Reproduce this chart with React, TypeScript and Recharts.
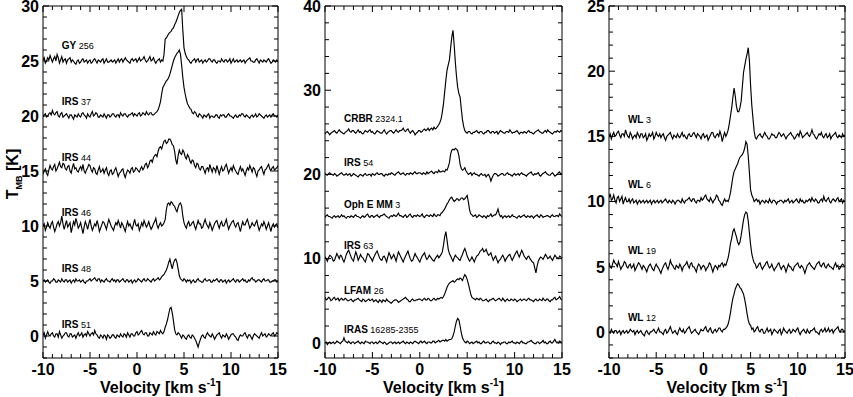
import React from 'react';
import { LineChart, Line, XAxis, YAxis, ReferenceArea, ReferenceDot } from 'recharts';

// ---------- data ----------
// channel velocities (km/s), 0.125 km/s channels
const VELOCITY = [
 -10,-9.875,-9.75,-9.625,-9.5,-9.375,-9.25,-9.125,
 -9,-8.875,-8.75,-8.625,-8.5,-8.375,-8.25,-8.125,
 -8,-7.875,-7.75,-7.625,-7.5,-7.375,-7.25,-7.125,
 -7,-6.875,-6.75,-6.625,-6.5,-6.375,-6.25,-6.125,
 -6,-5.875,-5.75,-5.625,-5.5,-5.375,-5.25,-5.125,
 -5,-4.875,-4.75,-4.625,-4.5,-4.375,-4.25,-4.125,
 -4,-3.875,-3.75,-3.625,-3.5,-3.375,-3.25,-3.125,
 -3,-2.875,-2.75,-2.625,-2.5,-2.375,-2.25,-2.125,
 -2,-1.875,-1.75,-1.625,-1.5,-1.375,-1.25,-1.125,
 -1,-0.875,-0.75,-0.625,-0.5,-0.375,-0.25,-0.125,
 0,0.125,0.25,0.375,0.5,0.625,0.75,0.875,
 1,1.125,1.25,1.375,1.5,1.625,1.75,1.875,
 2,2.125,2.25,2.375,2.5,2.625,2.75,2.875,
 3,3.125,3.25,3.375,3.5,3.625,3.75,3.875,
 4,4.125,4.25,4.375,4.5,4.625,4.75,4.875,
 5,5.125,5.25,5.375,5.5,5.625,5.75,5.875,
 6,6.125,6.25,6.375,6.5,6.625,6.75,6.875,
 7,7.125,7.25,7.375,7.5,7.625,7.75,7.875,
 8,8.125,8.25,8.375,8.5,8.625,8.75,8.875,
 9,9.125,9.25,9.375,9.5,9.625,9.75,9.875,
 10,10.125,10.25,10.375,10.5,10.625,10.75,10.875,
 11,11.125,11.25,11.375,11.5,11.625,11.75,11.875,
 12,12.125,12.25,12.375,12.5,12.625,12.75,12.875,
 13,13.125,13.25,13.375,13.5,13.625,13.75,13.875,
 14,14.125,14.25,14.375,14.5,14.625,14.75,14.875,
 15];

const X_TICKS = [-10,-9,-8,-7,-6,-5,-4,-3,-2,-1,0,1,2,3,4,5,6,7,8,9,10,11,12,13,14,15];
const P1_Y_TICKS = [-2,-1,0,1,2,3,4,5,6,7,8,9,10,11,12,13,14,15,16,17,18,19,20,21,22,23,24,25,26,27,28,29,30];
const P2_Y_TICKS = [0,2,4,6,8,10,12,14,16,18,20,22,24,26,28,30,32,34,36,38,40];
const P3_Y_TICKS = [-2,-1,0,1,2,3,4,5,6,7,8,9,10,11,12,13,14,15,16,17,18,19,20,21,22,23,24,25];

// Panel 1 spectra (T_MB minus the vertical offset)
const GY_256 = [
 0.1,0.3,-0.2,0.0,0.3,0.1,0.5,0.2,-0.1,0.2,0.4,0.0,0.6,0.3,-0.2,0.1,0.4,-0.1,0.1,0.2,
 -0.2,0.1,0.2,0.3,-0.1,0.1,0.0,-0.2,-0.3,0.0,0.1,-0.2,-0.1,0.1,0.2,-0.1,0.0,0.1,-0.2,0.0,
 0.1,-0.2,-0.1,0.1,0.2,0.0,-0.2,0.1,0.0,-0.1,0.1,0.2,-0.2,0.0,0.2,-0.1,-0.1,0.0,0.1,-0.1,
 0.0,0.1,-0.2,0.0,0.2,-0.1,0.1,0.2,-0.1,0.1,0.3,0.1,0.0,-0.1,-0.2,0.1,0.2,0.0,0.1,0.2,
 -0.1,0.1,0.3,0.0,0.1,0.2,0.4,0.1,-0.1,0.0,0.2,0.4,0.0,0.1,0.3,0.0,-0.2,0.0,0.1,0.2,
 -0.1,0.1,0.0,0.6,2.0,2.1,2.3,2.5,2.6,2.7,2.9,3.0,3.3,3.5,3.8,4.1,4.4,4.6,4.7,2.8,1.2,0.7,0.4,0.2,0.1,-0.1,-0.2,0.0,0.1,0.2,
 -0.1,0.1,0.2,-0.1,0.0,0.1,-0.2,0.0,0.1,-0.1,0.0,0.2,0.2,0.0,-0.1,0.1,0.1,-0.1,-0.2,0.0,
 0.0,-0.1,0.2,0.0,-0.1,0.1,0.1,-0.1,0.0,0.2,-0.2,0.0,0.2,-0.1,0.0,0.1,-0.1,0.0,0.1,-0.1,
 0.0,0.1,-0.2,0.0,0.1,0.2,0.3,0.0,0.0,-0.1,-0.1,0.1,0.2,0.0,-0.2,0.1,0.0,-0.1,0.1,0.0,
 -0.1,0.1,0.2,0.0,-0.2,-0.1,0.1,0.0,-0.1,0.1,-0.1];
const IRS_37 = [
 -0.1,0.1,0.2,-0.1,0.0,0.2,0.3,0.1,0.5,0.2,0.1,0.3,0.4,0.0,-0.1,0.2,0.3,-0.1,0.0,0.1,
 0.2,0.0,-0.2,0.1,0.1,-0.1,-0.3,0.1,0.0,-0.1,0.2,0.0,-0.1,0.2,0.3,0.1,0.0,-0.2,0.2,0.0,
 -0.1,0.2,0.4,0.0,0.1,0.3,0.2,-0.1,-0.1,0.1,0.0,-0.1,0.2,0.0,-0.2,0.1,0.1,-0.1,0.0,0.2,
 0.2,0.0,-0.1,0.1,0.1,-0.1,0.3,0.1,0.0,0.2,0.2,0.0,-0.1,0.1,0.1,0.2,0.3,0.0,0.2,0.1,
 0.0,0.2,0.3,0.0,0.1,0.3,0.2,0.1,0.4,0.2,0.1,0.3,0.3,0.1,0.1,0.2,
 0.3,0.4,0.6,0.9,1.3,2.0,2.6,2.8,3.0,3.2,3.3,3.5,3.8,4.2,4.6,5.0,5.3,5.5,5.7,5.8,6.0,5.6,4.6,3.5,2.6,2.0,1.5,1.1,0.9,0.7,0.6,0.3,0.2,0.4,0.3,0.0,-0.1,0.2,
 0.1,0.0,-0.2,0.1,0.0,-0.1,0.1,0.2,-0.2,0.0,0.0,-0.1,-0.1,0.1,0.1,-0.1,-0.2,0.1,0.0,0.1,
 0.1,-0.1,-0.1,0.1,0.2,0.0,0.0,-0.1,-0.2,0.0,0.1,-0.1,-0.1,0.1,0.0,0.2,0.2,0.0,-0.1,0.1,
 0.0,-0.1,-0.2,0.0,0.1,-0.1,0.0,0.2,-0.1,0.0,0.2,0.1,0.0,-0.1,-0.2,0.0,0.1,-0.1,0.0,0.1,
 -0.1,0.1,0.2,0.0,0.0,-0.1,0.1];
const IRS_44 = [
 -0.3,0.0,0.2,-0.2,-0.4,0.1,0.5,0.2,0.1,0.4,0.6,0.0,0.2,0.5,0.8,0.4,0.3,0.7,0.6,0.2,
 0.1,0.4,0.5,0.0,-0.2,0.3,0.7,0.2,0.3,0.0,-0.1,0.2,0.4,0.1,0.6,0.0,-0.2,0.1,0.3,0.6,
 0.5,0.1,-0.1,0.3,0.2,-0.2,-0.3,0.1,0.4,-0.1,0.0,0.2,-0.2,0.1,0.3,-0.2,-0.4,0.0,0.1,-0.3,
 -0.2,0.1,0.3,-0.1,-0.5,-0.2,-0.1,0.1,0.2,-0.3,-0.6,-0.2,0.1,0.0,-0.2,0.2,0.3,-0.1,0.0,0.3,
 0.2,0.0,-0.1,0.2,0.4,0.1,0.3,0.6,0.7,0.3,0.5,0.9,1.0,0.8,1.2,1.4,1.5,1.3,1.8,2.1,2.2,2.0,2.4,2.7,2.8,2.5,2.6,2.9,2.9,2.7,2.4,2.3,1.8,1.0,0.6,1.4,1.9,1.6,1.5,1.9,1.7,1.3,1.1,1.5,1.3,0.9,0.7,1.0,0.9,0.5,0.3,0.7,0.6,0.2,0.1,0.4,
 0.4,0.1,-0.2,0.2,0.3,0.0,0.6,0.2,-0.1,0.3,0.2,-0.1,0.5,0.1,-0.3,0.1,0.4,0.0,0.1,0.4,
 0.6,0.2,-0.2,0.1,0.3,0.0,0.5,0.2,0.0,-0.2,-0.3,0.1,0.4,0.0,0.2,-0.1,-0.4,0.0,0.3,0.1,
 0.5,0.2,-0.1,0.3,0.2,-0.2,-0.5,0.0,0.1,0.3,0.4,0.0,-0.3,0.1,0.2,0.4,0.6,0.2,0.0,0.3,
 0.4,0.1,0.2,0.3,0.5];
const IRS_46 = [
 0.0,0.2,-0.4,-0.1,0.3,0.0,-0.2,0.2,0.4,-0.1,-0.5,-0.2,0.2,0.4,0.0,0.3,0.9,0.2,-0.3,0.1,
 0.5,-0.1,0.1,0.3,-0.6,-0.1,0.4,0.1,0.7,0.3,-0.2,0.0,0.3,-0.2,-0.7,-0.1,0.4,0.1,-0.3,0.2,
 0.6,0.0,-0.4,-0.1,0.2,0.0,0.5,0.1,-0.5,-0.2,0.1,0.4,0.3,0.0,-0.3,0.2,0.6,0.3,0.0,-0.2,
 -0.4,0.0,0.3,0.1,0.5,0.2,-0.2,0.3,0.1,-0.2,-0.5,0.0,0.4,0.0,0.2,-0.1,-0.3,0.2,0.6,0.1,
 0.0,0.2,-0.4,-0.1,0.3,0.0,0.5,0.2,-0.1,0.1,0.4,0.0,-0.3,-0.1,0.2,0.4,0.7,0.1,-0.2,0.1,
 0.3,0.0,0.1,0.3,0.6,1.5,2.0,2.1,1.9,2.2,2.1,1.9,1.8,1.5,1.3,1.7,2.0,2.1,1.8,0.9,0.3,0.0,-0.2,0.2,0.4,0.0,0.1,0.3,
 0.4,0.0,-0.3,0.1,0.5,0.2,0.2,-0.2,-0.1,0.3,0.6,0.2,0.0,-0.2,0.3,0.0,-0.4,-0.1,0.2,0.4,
 0.5,0.1,-0.2,0.2,0.4,0.0,0.0,0.3,0.6,0.1,-0.3,0.0,0.2,0.4,0.5,0.1,-0.1,0.2,0.3,-0.1,
 -0.5,0.0,0.4,0.1,0.1,0.4,0.6,0.2,-0.2,0.0,0.3,0.1,0.0,0.3,0.5,0.0,-0.4,-0.1,0.2,0.0,
 0.4,0.1,-0.3,0.0,0.3,-0.1,-0.5,0.0,0.2,-0.1,0.1,0.2,-0.2];
const IRS_48 = [
 0.0,0.1,-0.1,0.0,0.1,-0.1,-0.2,0.0,0.0,0.2,0.1,-0.1,-0.1,0.1,0.0,-0.1,0.2,0.0,-0.1,0.1,
 0.1,-0.1,0.0,0.1,-0.2,0.0,0.1,-0.1,0.2,0.0,0.0,0.1,-0.1,0.0,0.1,-0.1,-0.2,0.0,0.0,0.1,
 0.2,0.0,0.1,0.2,0.3,0.1,0.0,0.2,0.2,-0.1,0.1,0.0,-0.1,0.1,0.2,0.0,0.0,-0.1,0.1,0.2,
 0.0,0.1,-0.1,0.1,0.1,-0.1,0.0,0.1,0.2,0.0,-0.1,0.1,0.1,-0.1,0.0,0.1,-0.2,0.0,0.1,-0.1,
 0.0,0.2,0.1,0.0,-0.1,0.1,0.2,0.0,0.0,0.2,0.1,0.0,-0.1,0.1,0.2,0.0,0.1,0.2,0.3,0.1,
 0.2,0.4,0.5,0.6,0.8,1.0,1.3,1.7,2.0,1.5,1.1,1.6,1.9,2.0,1.7,1.1,0.5,0.2,0.1,0.0,0.2,0.1,-0.1,0.1,
 0.0,0.1,-0.2,0.0,0.1,-0.1,-0.1,0.1,0.2,0.0,0.0,-0.1,-0.1,0.1,0.2,0.0,0.0,0.1,0.1,-0.1,
 -0.1,0.1,0.0,0.1,0.2,0.0,-0.1,0.1,0.1,-0.1,0.0,0.1,-0.2,0.0,0.1,-0.1,0.0,0.1,0.2,0.0,
 -0.1,0.1,0.1,-0.1,0.0,0.1,0.2,0.0,0.1,-0.1,-0.1,0.1,0.0,0.2,0.3,0.1,0.1,-0.1,0.0,0.1,
 0.1,0.0,-0.1,0.1,0.2,0.0,0.0,0.1,0.1,-0.1,-0.1,0.0,0.0,0.1,0.1,-0.1,0.0];
const IRS_51 = [
 0.1,0.3,-0.2,0.1,0.4,0.1,0.0,0.2,0.3,0.0,-0.1,0.2,0.2,-0.1,0.4,0.1,-0.2,0.0,0.1,0.3,
 0.3,0.0,-0.1,0.2,0.2,-0.1,0.0,0.1,-0.2,0.1,0.3,0.0,0.1,0.3,-0.1,0.1,0.2,0.0,0.4,0.2,
 0.0,0.2,0.3,0.1,0.5,0.2,0.1,-0.1,-0.2,0.1,0.0,-0.2,0.1,0.0,-0.3,0.1,0.0,-0.2,-0.1,0.1,
 0.1,-0.1,-0.2,0.1,0.0,-0.1,0.2,0.0,-0.1,0.2,0.1,-0.1,0.3,0.1,-0.1,0.2,0.2,0.0,0.0,0.3,
 0.4,0.1,0.2,0.4,0.5,0.2,0.1,0.3,0.3,0.0,0.0,0.3,0.2,0.1,0.4,0.2,0.1,0.4,0.3,0.2,
 0.5,0.3,0.2,0.4,0.8,1.1,1.5,2.0,2.5,2.6,2.1,1.4,0.6,0.2,0.1,0.3,0.2,0.0,-0.2,0.1,0.0,-0.2,
 -0.3,0.0,0.1,-0.1,-0.2,0.1,0.0,-0.2,-0.4,-0.7,-1.0,-0.6,-0.3,0.0,0.1,-0.1,-0.2,0.1,0.3,0.1,
 0.0,-0.1,0.2,0.0,-0.3,-0.1,0.1,0.2,0.3,0.0,-0.2,0.1,0.0,-0.1,0.2,0.0,-0.3,-0.1,0.1,0.2,
 0.2,0.0,-0.1,-0.3,-0.4,-0.1,0.1,0.0,0.0,0.2,0.3,0.0,-0.2,0.1,0.1,-0.1,-0.3,0.0,0.2,0.1,
 0.0,-0.1,-0.2,0.1,0.3,0.0,0.1,0.2,-0.1,0.0,0.2,0.1,0.0,0.2,0.3,0.0,0.1,0.3,0.2];

// Panel 2 spectra
const CRBR_2324 = [
 -0.2,0.0,0.1,-0.1,-0.3,-0.1,0.0,0.1,0.2,0.0,-0.1,0.1,0.3,0.1,0.0,-0.1,-0.2,0.0,0.1,0.2,
 0.4,0.1,0.0,0.2,0.2,0.0,-0.1,0.1,0.3,0.0,0.1,-0.1,-0.2,0.0,0.2,0.1,0.0,0.2,0.3,0.0,
 0.1,-0.1,-0.2,0.0,0.2,0.1,0.0,-0.1,-0.1,0.1,0.3,0.0,-0.2,0.0,0.1,0.2,0.2,0.0,-0.1,0.1,
 0.3,0.1,0.0,0.2,0.2,0.3,0.5,0.2,0.1,0.3,0.4,0.1,-0.1,0.1,0.2,0.0,-0.3,-0.1,0.0,0.2,
 0.2,0.0,0.1,0.3,0.4,0.2,0.3,0.5,0.2,0.4,0.5,0.3,0.6,0.4,
 0.5,0.7,0.9,1.2,1.6,2.4,3.4,4.8,6.2,7.4,8.0,8.6,10.0,11.3,12.1,10.4,8.3,6.6,5.3,4.6,4.2,2.8,1.5,0.7,0.2,0.0,-0.1,0.1,
 0.1,-0.1,-0.2,0.0,0.0,0.1,0.2,0.0,-0.1,0.1,0.1,-0.1,-0.2,0.0,0.0,0.2,0.2,0.0,-0.1,0.1,
 0.1,-0.1,0.0,0.1,-0.2,0.0,0.2,0.1,0.0,-0.1,-0.1,0.1,0.1,0.0,0.3,0.1,-0.1,0.0,0.0,0.1,
 0.2,0.0,-0.2,0.0,0.0,-0.1,0.1,0.0,-0.1,0.1,0.2,0.0,0.0,-0.1,-0.2,0.0,0.1,0.2,0.3,0.1,
 0.0,-0.1,-0.1,0.1,0.2,0.0,0.3,0.1,0.0,-0.1,-0.2,0.0,0.1,0.0,0.2,0.1,0.0,0.2,0.1];
const IRS_54 = [
 0.1,0.0,-0.1,0.1,0.2,0.0,0.0,-0.1,0.1,0.0,-0.2,-0.1,0.0,0.1,0.2,0.0,-0.1,0.0,0.1,-0.1,
 0.0,0.1,-0.2,-0.1,0.1,0.0,-0.1,-0.2,-0.3,-0.1,0.0,-0.1,-0.2,0.0,0.1,-0.1,-0.1,0.0,0.0,-0.2,
 0.1,0.0,-0.1,0.1,0.2,0.0,0.0,0.1,0.1,-0.1,-0.2,0.0,0.0,-0.1,0.1,0.0,0.2,0.1,0.0,-0.1,
 0.1,0.2,0.3,0.1,0.0,0.1,0.2,0.0,-0.1,0.1,0.1,0.0,0.2,0.1,0.0,0.2,0.3,0.1,0.1,0.2,
 0.2,0.1,0.0,0.2,0.1,0.0,0.3,0.1,0.2,0.3,0.4,0.2,0.1,0.3,0.3,0.2,0.5,0.3,0.3,0.4,
 0.4,0.3,0.6,0.5,0.9,1.4,2.4,2.9,3.0,2.9,3.1,3.0,2.8,2.2,1.2,0.7,0.5,0.6,0.8,0.4,0.2,0.0,0.1,0.2,
 -0.1,0.1,0.2,0.0,0.0,-0.1,-0.2,0.0,0.1,-0.1,-0.1,0.0,-0.3,-0.1,0.0,-0.3,-0.8,-0.4,-0.1,0.1,
 0.1,0.0,-0.2,-0.1,0.0,0.1,0.1,-0.1,-0.1,0.1,0.2,0.0,0.0,-0.1,-0.2,0.0,0.1,-0.1,0.0,0.1,
 -0.1,0.1,0.2,0.0,0.0,-0.1,-0.2,0.0,0.1,0.2,0.3,0.0,-0.1,0.1,0.0,0.1,0.2,-0.1,-0.2,0.0,
 0.1,0.2,0.3,0.1,0.0,-0.1,-0.1,0.1,0.2,0.0,-0.2,-0.1,0.0,0.2,0.3,0.0,0.1];
const OPH_E_MM3 = [
 -0.1,0.1,0.2,0.0,0.0,-0.1,-0.2,0.0,0.1,-0.1,0.0,0.1,-0.1,0.0,0.2,0.0,0.1,-0.1,-0.2,0.0,
 0.0,-0.1,0.1,0.0,-0.1,0.1,0.2,0.0,0.0,-0.1,-0.2,0.0,0.1,-0.1,0.0,0.2,0.3,0.0,-0.1,0.1,
 0.1,-0.1,0.0,0.1,0.2,0.0,-0.1,0.1,0.1,0.2,0.3,0.1,0.0,-0.1,-0.2,0.0,0.1,0.0,0.2,0.1,
 0.0,0.2,0.4,0.1,0.1,0.0,-0.1,0.1,0.2,-0.1,0.0,0.2,0.3,0.0,-0.1,0.1,0.1,0.0,0.2,0.1,
 0.0,0.1,0.3,0.0,-0.1,0.1,0.2,0.1,0.0,0.2,0.1,0.0,0.3,0.1,0.0,0.2,
 0.2,0.1,0.4,0.5,0.7,0.9,1.2,1.5,1.7,2.0,2.2,2.3,2.0,1.8,1.9,2.1,2.1,1.9,2.0,2.2,2.2,2.0,2.1,2.3,2.5,1.7,0.8,0.3,0.2,0.0,0.1,0.2,
 -0.1,0.0,0.2,0.1,0.0,-0.1,0.1,0.0,-0.2,0.1,0.0,0.1,0.3,0.0,0.1,0.2,0.2,0.5,0.9,0.3,
 0.0,0.1,-0.2,0.0,0.1,-0.1,0.0,0.1,-0.1,0.0,0.2,0.0,0.0,-0.1,-0.2,0.0,0.1,-0.1,0.0,0.1,
 0.2,0.0,-0.1,0.1,0.0,-0.1,0.1,0.0,-0.2,0.0,0.1,0.2,0.0,-0.1,0.2,0.1,-0.1,0.0,0.0,0.1,
 0.1,0.0,-0.1,0.1,0.2,0.0,0.0,0.1,0.1,0.0,0.3,0.1,0.0];
const IRS_63 = [
 0.2,0.0,-0.3,0.1,0.4,0.3,0.1,-0.3,-0.2,0.2,0.6,0.3,0.0,0.4,0.3,-0.1,-0.4,0.0,0.5,0.8,
 1.0,0.6,0.2,-0.1,-0.3,0.3,0.8,0.4,-0.2,0.1,0.5,0.2,0.1,-0.2,-0.4,0.1,0.6,0.5,0.2,0.0,
 -0.3,0.1,0.4,0.7,0.9,0.5,0.1,-0.1,-0.2,0.2,0.3,0.0,-0.4,0.2,0.7,0.4,0.0,0.2,0.5,0.1,
 -0.3,0.3,0.8,0.5,0.2,-0.1,-0.4,0.0,0.3,0.6,0.9,0.4,0.0,-0.3,-0.2,0.2,0.6,0.3,0.1,-0.2,
 -0.4,0.0,0.3,0.5,0.7,0.2,-0.1,0.1,0.4,0.2,0.0,-0.2,-0.3,0.0,0.2,0.4,0.1,0.3,0.5,0.8,
 1.6,2.6,3.2,2.2,1.1,0.6,0.3,0.0,-0.3,0.1,0.4,0.2,
 0.1,-0.1,-0.2,0.2,0.5,0.9,1.2,0.8,0.3,0.0,-0.3,-0.1,0.2,-0.1,-0.4,0.0,0.3,0.4,0.6,0.9,
 1.0,1.2,0.8,0.9,1.1,0.7,0.4,0.5,0.7,0.2,-0.2,0.1,0.3,-0.1,-0.5,-0.2,-0.1,0.2,0.4,0.1,
 -0.3,0.0,0.2,0.4,0.5,0.1,-0.2,0.1,0.4,0.7,0.9,0.5,0.2,0.6,1.0,0.7,0.3,0.1,-0.1,0.2,
 0.3,0.0,-0.2,-0.4,-0.5,-1.1,-1.7,-0.9,-0.3,0.0,0.2,0.1,-0.1,0.2,0.5,0.3,0.0,0.1,0.3,0.0,
 -0.2,0.1,0.4,0.2,0.1,0.0,0.3,0.2,0.0];
const LFAM_26 = [
 0.4,0.1,0.2,0.4,0.3,0.0,0.1,0.3,0.4,0.1,0.2,0.3,0.0,0.2,0.3,0.1,0.1,0.3,0.2,0.0,
 0.0,0.1,0.2,0.0,-0.1,0.1,0.1,0.2,0.3,0.1,0.0,-0.1,0.2,0.1,-0.1,0.0,0.1,0.2,0.0,0.1,
 0.2,-0.1,0.0,0.1,-0.1,-0.2,0.1,0.0,-0.2,0.1,0.0,-0.1,0.2,0.0,-0.1,-0.2,-0.3,-0.1,0.0,0.1,
 0.1,0.0,-0.2,-0.1,0.0,0.1,0.2,0.3,0.4,0.2,0.1,-0.1,-0.1,0.1,0.2,0.0,0.0,0.1,0.1,0.2,
 0.2,0.1,0.0,0.2,0.3,0.1,0.1,0.3,0.2,0.0,0.0,0.2,0.3,0.1,0.1,0.3,0.2,0.3,0.4,0.3,
 0.5,0.8,1.2,1.6,1.9,2.1,2.2,2.3,2.4,2.2,2.3,2.5,2.6,2.5,2.7,2.6,2.4,2.8,3.1,2.9,2.5,2.0,1.4,0.8,0.4,0.3,0.2,0.1,
 0.3,0.2,0.1,0.3,0.2,0.0,0.0,0.1,0.2,0.0,-0.1,0.1,0.1,0.2,0.3,0.1,0.0,0.1,0.2,0.3,
 0.1,0.0,0.3,0.1,-0.1,0.1,0.2,0.0,0.0,0.2,0.1,0.0,0.2,0.1,-0.1,0.0,0.1,0.2,0.0,0.1,
 0.2,0.1,0.0,0.2,0.3,0.1,0.1,0.0,-0.1,0.1,0.2,0.0,0.0,0.2,0.1,0.0,0.3,0.1,0.0,0.2,
 0.2,0.0,-0.1,0.1,0.1,0.3,0.4,0.1,0.2,0.3,0.5,0.2,0.1];
const IRAS_16285 = [
 0.0,0.1,-0.2,0.0,0.1,-0.1,0.0,0.1,-0.1,0.0,0.2,0.1,0.0,-0.1,0.1,0.2,0.6,0.2,0.1,0.0,
 0.2,0.0,-0.1,0.1,0.1,-0.1,0.0,0.1,0.2,0.0,-0.1,0.1,0.0,-0.1,0.2,0.1,0.1,0.0,-0.1,0.1,
 0.1,-0.1,0.0,0.1,-0.1,0.0,0.2,0.1,0.0,-0.1,0.1,0.0,-0.2,-0.1,0.0,0.1,0.1,-0.1,0.0,0.1,
 -0.1,0.0,0.1,-0.1,0.0,0.1,0.2,0.0,-0.1,0.1,0.0,-0.1,0.1,0.0,-0.1,0.1,0.2,0.1,0.0,-0.1,
 0.1,0.2,0.0,0.1,0.2,0.0,-0.1,0.1,0.1,0.0,0.0,0.2,0.2,0.0,0.1,0.2,0.3,0.1,0.2,0.3,
 0.3,0.2,0.4,0.2,0.3,0.4,0.4,0.5,0.8,1.3,2.0,2.6,2.9,2.7,2.0,1.2,0.6,0.3,0.1,0.0,
 0.2,0.1,-0.1,0.0,0.1,-0.1,0.0,0.1,0.2,0.0,0.1,-0.1,-0.1,0.1,0.2,0.0,0.0,0.1,0.1,-0.1,
 -0.1,0.1,0.2,0.0,0.0,-0.1,0.1,0.0,-0.2,0.0,0.0,0.1,0.1,-0.1,-0.1,0.1,0.0,0.1,0.2,0.0,
 0.0,-0.1,0.1,0.0,-0.1,0.1,0.2,0.0,0.0,-0.1,-0.1,0.1,0.1,0.2,0.3,0.1,0.0,-0.1,-0.1,0.1,
 0.1,-0.1,0.0,0.1,0.3,0.0,0.1,-0.1,-0.1,0.1,0.2,0.0,0.0,0.2,0.4,0.1,0.1,0.0,0.2,0.1,0.0];

// Panel 3 spectra
const WL_3 = [
 0.0,0.2,-0.2,0.1,0.3,0.0,0.1,0.3,0.4,0.1,-0.1,0.2,0.2,0.0,0.5,0.2,0.0,-0.1,0.3,0.1,
 -0.2,0.0,0.1,-0.1,0.3,0.1,-0.1,0.2,0.2,-0.1,0.0,0.2,-0.3,-0.1,0.2,0.0,0.1,0.3,-0.2,0.0,
 0.3,0.1,0.0,0.2,-0.1,0.1,0.2,-0.1,-0.3,0.0,0.1,0.2,0.3,0.0,-0.2,0.1,0.0,-0.1,0.2,0.0,
 -0.1,0.1,0.3,0.0,0.1,-0.1,-0.2,0.1,0.2,0.0,0.0,0.2,0.3,0.1,-0.1,0.2,0.1,0.0,-0.2,0.1,
 0.2,-0.1,0.0,0.1,-0.3,-0.1,0.1,0.3,0.3,0.0,-0.1,0.1,0.2,0.0,0.4,0.1,-0.4,0.0,0.3,0.0,
 0.2,0.5,1.0,1.6,2.2,3.0,3.7,3.1,2.3,1.9,1.9,2.2,2.7,3.8,4.9,5.4,5.9,6.3,6.8,5.8,3.9,2.4,1.4,0.4,-0.1,-0.2,0.0,0.1,
 0.2,0.0,-0.1,0.1,0.3,0.1,0.0,-0.2,-0.2,0.0,0.2,0.1,0.1,-0.1,-0.1,0.1,0.3,0.2,0.0,0.1,
 0.2,0.0,-0.2,0.0,0.1,0.2,0.3,0.1,0.0,-0.2,-0.1,0.1,0.2,0.0,0.4,0.2,-0.1,0.0,0.1,0.2,
 0.3,0.1,0.0,0.2,0.5,0.2,0.1,-0.1,-0.2,0.0,0.2,0.1,0.3,0.0,-0.1,0.1,0.2,-0.1,0.0,0.2,
 -0.2,0.0,0.1,0.2,0.3,0.0,-0.1,0.1,0.0,-0.1,0.2,0.0,0.1];
const WL_6 = [
 0.3,0.6,0.1,0.2,0.5,0.1,-0.1,0.3,0.4,0.0,0.2,0.4,-0.2,0.1,0.3,0.0,0.0,0.2,-0.1,0.1,
 0.2,-0.1,0.0,0.1,-0.2,0.0,0.1,-0.1,0.0,0.1,-0.1,0.0,0.1,-0.1,0.0,0.1,-0.2,0.0,0.1,-0.1,
 0.0,0.1,-0.1,0.0,0.1,-0.1,0.0,0.1,0.2,0.0,-0.1,0.1,0.0,-0.1,0.1,0.0,-0.2,0.0,0.1,0.1,
 0.0,-0.1,0.2,0.0,-0.1,0.1,0.1,0.2,0.3,0.1,0.0,0.2,0.2,0.0,-0.1,0.1,0.1,0.0,0.3,0.1,
 0.2,0.4,0.5,0.2,0.1,0.0,0.3,0.1,-0.1,0.1,0.2,0.5,0.4,0.1,0.0,-0.2,-0.3,0.0,0.2,0.0,
 0.1,0.0,0.3,0.7,1.3,1.9,2.3,2.5,2.7,2.9,3.2,3.4,3.5,3.6,3.8,4.1,4.6,4.4,3.5,2.2,0.9,0.5,0.3,0.0,0.1,0.2,
 0.0,0.1,-0.2,0.0,0.1,0.0,-0.1,0.1,0.0,-0.1,0.2,0.0,-0.1,0.1,0.1,0.0,-0.2,0.0,0.0,0.1,
 0.1,0.0,-0.1,0.1,0.0,0.1,0.2,-0.1,0.0,0.1,-0.1,0.0,0.1,0.2,0.0,-0.1,0.2,0.0,0.1,-0.1,
 -0.1,0.1,0.0,0.1,0.2,0.0,0.3,0.1,0.0,0.2,0.1,-0.1,-0.1,0.1,0.2,0.0,0.4,0.1,0.0,0.2,
 0.3,0.0,-0.1,0.1,0.2,0.1,0.0,0.2,0.3,0.0,0.1,0.2,-0.1,0.1,0.0];
const WL_19 = [
 0.3,0.0,-0.1,0.2,0.5,0.3,0.2,0.0,0.4,0.1,-0.2,0.0,0.1,0.4,0.3,0.0,-0.1,0.1,0.2,-0.1,
 0.0,0.2,-0.3,-0.1,0.1,0.3,0.2,0.0,-0.2,0.1,0.0,-0.2,-0.4,-0.1,0.1,0.2,0.0,-0.2,-0.3,0.0,
 0.2,0.0,-0.1,-0.3,-0.5,-0.2,0.0,0.2,0.3,0.0,-0.2,0.1,0.5,0.2,0.1,-0.1,-0.2,0.1,0.0,-0.1,
 0.2,0.0,-0.3,0.0,0.1,0.2,0.4,0.1,-0.1,0.2,0.3,0.0,0.0,-0.2,-0.4,0.0,0.2,0.1,-0.2,0.0,
 0.1,0.0,-0.3,-0.1,0.0,0.3,0.2,-0.1,-0.4,-0.1,0.1,0.0,-0.2,0.1,0.0,0.2,0.3,0.0,0.2,0.1,
 0.4,0.7,1.2,1.8,2.2,2.7,2.9,2.6,2.3,1.9,1.7,1.9,2.4,3.0,3.6,4.0,4.2,4.1,3.5,2.6,1.7,1.0,0.6,0.3,0.2,-0.1,
 0.0,0.2,0.3,0.0,-0.2,0.0,0.1,0.3,0.4,0.1,-0.1,0.0,0.2,-0.1,-0.3,-0.1,0.0,0.2,0.3,0.0,
 -0.2,0.0,0.1,-0.1,-0.4,-0.1,0.2,0.0,0.0,-0.2,-0.3,0.0,0.1,0.2,0.3,0.0,-0.1,0.1,0.0,-0.2,
 -0.5,-0.2,0.1,0.2,0.3,0.1,0.0,-0.1,-0.2,0.0,0.2,0.3,0.4,0.1,0.0,0.2,0.3,0.0,-0.1,0.1,
 0.2,0.0,0.0,-0.1,-0.2,0.1,0.3,0.0,0.1,-0.2,-0.1,0.1,0.2,0.1,0.0];
const WL_12 = [
 0.0,-0.1,0.2,0.0,-0.1,0.1,0.1,-0.1,0.0,0.1,-0.2,0.0,0.1,-0.1,0.0,0.1,-0.1,0.0,0.2,0.1,
 0.0,0.1,-0.2,0.0,0.1,-0.1,0.0,0.1,-0.1,-0.2,-0.3,0.0,0.1,-0.1,-0.2,0.0,0.0,0.1,0.2,0.0,
 -0.1,0.1,0.3,0.0,0.0,-0.1,-0.2,0.1,0.2,-0.1,0.0,0.2,0.4,0.1,-0.1,0.0,0.1,-0.1,-0.2,0.1,
 0.3,0.1,0.0,0.2,-0.1,0.0,0.2,0.3,0.4,0.1,-0.1,0.0,0.1,0.2,0.0,-0.1,-0.2,0.0,0.2,0.1,
 0.1,0.3,0.4,0.1,0.0,0.2,0.3,0.0,-0.1,0.1,0.2,0.0,0.1,0.3,0.3,0.1,0.0,0.2,0.2,0.3,
 0.4,0.6,1.0,1.5,2.1,2.6,2.9,3.3,3.5,3.7,3.6,3.4,3.3,3.1,2.9,2.5,2.0,1.4,0.9,0.6,0.5,0.2,0.3,0.0,0.1,0.3,
 0.4,0.1,0.0,0.2,0.2,-0.1,-0.1,0.1,0.3,0.0,0.1,0.2,-0.2,0.0,0.2,0.1,0.0,-0.1,0.1,0.2,
 -0.2,0.0,0.3,0.1,0.0,-0.1,0.1,0.2,-0.1,0.0,0.2,0.1,0.0,0.2,0.3,0.0,-0.2,0.0,0.1,0.2,
 0.0,-0.1,0.2,0.0,-0.1,0.1,0.1,0.2,0.3,0.0,0.0,-0.1,-0.2,0.1,0.2,0.0,0.1,0.3,0.0,0.1,
 0.3,0.0,0.1,0.2,-0.1,0.1,0.2,0.3,0.4,0.1,0.0,0.2,0.2,0.0,0.1];

const P1_SPECTRA = [GY_256, IRS_37, IRS_44, IRS_46, IRS_48, IRS_51];
const P1_OFFSETS = [25, 20, 15, 10, 5, 0];
const P1_NAMES = ['GY', 'IRS', 'IRS', 'IRS', 'IRS', 'IRS'];
const P1_NUMS = ['256', '37', '44', '46', '48', '51'];
const P1_LABEL_T = [26.6, 21.5, 16.4, 11.4, 6.3, 1.25];

const P2_SPECTRA = [CRBR_2324, IRS_54, OPH_E_MM3, IRS_63, LFAM_26, IRAS_16285];
const P2_OFFSETS = [25, 20, 15, 10, 5, 0];
const P2_NAMES = ['CRBR', 'IRS', 'Oph E MM', 'IRS', 'LFAM', 'IRAS'];
const P2_NUMS = ['2324.1', '54', '3', '63', '26', '16285-2355'];
const P2_LABEL_T = [26.9, 21.7, 16.7, 11.8, 6.5, 1.8];

const P3_SPECTRA = [WL_3, WL_6, WL_19, WL_12];
const P3_OFFSETS = [15, 10, 5, 0];
const P3_NAMES = ['WL', 'WL', 'WL', 'WL'];
const P3_NUMS = ['3', '6', '19', '12'];
const P3_LABEL_T = [16.5, 11.5, 6.4, 1.3];

const LABEL_V = -8;

// ---------- layout / style ----------
const FONT = '"Liberation Sans", Arial, Helvetica, sans-serif';
const CH = 397;
const TOP = 6;
const XAXIS_H = 39;
const PLOT_H = CH - TOP - XAXIS_H;
const YAXIS_W = 43;
const RIGHT_PAD = 14;

type PanelCfg = {
  plotLeft: number; plotRight: number; domain: [number, number]; yTicks: number[]; yMajor: number;
  spectra: number[][]; offsets: number[]; names: string[]; nums: string[]; labelT: number[];
};

const PANELS: PanelCfg[] = [
  { plotLeft: 43, plotRight: 278, domain: [-2, 30], yTicks: P1_Y_TICKS, yMajor: 5,
    spectra: P1_SPECTRA, offsets: P1_OFFSETS, names: P1_NAMES, nums: P1_NUMS, labelT: P1_LABEL_T },
  { plotLeft: 325, plotRight: 562, domain: [-1.8, 40], yTicks: P2_Y_TICKS, yMajor: 10,
    spectra: P2_SPECTRA, offsets: P2_OFFSETS, names: P2_NAMES, nums: P2_NUMS, labelT: P2_LABEL_T },
  { plotLeft: 609, plotRight: 845, domain: [-2, 25], yTicks: P3_Y_TICKS, yMajor: 5,
    spectra: P3_SPECTRA, offsets: P3_OFFSETS, names: P3_NAMES, nums: P3_NUMS, labelT: P3_LABEL_T },
];

const isMajor = (v: number, step: number) => Math.abs(v / step - Math.round(v / step)) < 1e-6;

function Panel({ cfg }: { cfg: PanelCfg }) {
  const plotW = cfg.plotRight - cfg.plotLeft;
  const width = YAXIS_W + plotW + RIGHT_PAD;
  const rows = VELOCITY.map((v, i) => {
    const r: any = { v };
    cfg.spectra.forEach((s, k) => { r['s' + k] = Math.round((cfg.offsets[k] + s[i]) * 100) / 100; });
    return r;
  });
  const yTick = (p: any) => {
    const { x, y, payload } = p;
    const val = payload.value;
    const maj = isMajor(val, cfg.yMajor);
    const len = maj ? 6 : 4;
    return (
      <g>
        <line x1={x} x2={x + len} y1={y} y2={y} stroke="#000" strokeWidth={1} />
        <line x1={x + plotW - len} x2={x + plotW} y1={y} y2={y} stroke="#000" strokeWidth={1} />
        {maj && (
          <text x={x - 4} y={y} dy="0.36em" textAnchor="end" fontFamily={FONT} fontWeight="bold" fontSize={16} fill="#000">{val}</text>
        )}
      </g>
    );
  };
  const xTick = (p: any) => {
    const { x, y, payload } = p;
    const val = payload.value;
    const maj = isMajor(val, 5);
    const len = maj ? 6 : 4;
    return (
      <g>
        <line x1={x} x2={x} y1={y} y2={y - len} stroke="#000" strokeWidth={1} />
        <line x1={x} x2={x} y1={y - PLOT_H} y2={y - PLOT_H + len} stroke="#000" strokeWidth={1} />
        {maj && (
          <text x={x} y={y + 17} textAnchor="middle" fontFamily={FONT} fontWeight="bold" fontSize={16} fill="#000">{val}</text>
        )}
      </g>
    );
  };
  return (
    <div style={{ position: 'absolute', left: cfg.plotLeft - YAXIS_W, top: 0 }}>
      <LineChart width={width} height={CH} data={rows} margin={{ top: TOP, right: RIGHT_PAD, bottom: 0, left: 0 }}>
        <XAxis dataKey="v" type="number" domain={[-10, 15]} ticks={X_TICKS} interval={0}
          height={XAXIS_H} tickSize={0} tickMargin={0} tickLine={false} axisLine={false} tick={xTick} allowDataOverflow />
        <YAxis type="number" domain={cfg.domain} ticks={cfg.yTicks} interval={0}
          width={YAXIS_W} tickSize={0} tickMargin={0} tickLine={false} axisLine={false} tick={yTick} allowDataOverflow />
        <ReferenceArea x1={-10} x2={15} y1={cfg.domain[0]} y2={cfg.domain[1]} fill="none" fillOpacity={0}
          stroke="#000" strokeWidth={1} ifOverflow="visible" />
        {cfg.spectra.map((_, k) => (
          <Line key={'s' + k} dataKey={'s' + k} type="linear" stroke="#000" strokeWidth={1.15}
            dot={false} activeDot={false} isAnimationActive={false} />
        ))}
        {cfg.names.map((n, k) => (
          <ReferenceDot key={'l' + k} x={LABEL_V} y={cfg.labelT[k]} r={0} ifOverflow="visible"
            shape={(p: any) => (
              <text x={p.cx} y={p.cy} dy="0.36em" fontFamily={FONT} fill="#000">
                <tspan fontWeight="bold" fontSize={10}>{n}</tspan>
                <tspan fontSize={9}>{' ' + cfg.nums[k]}</tspan>
              </text>
            )} />
        ))}
      </LineChart>
    </div>
  );
}

export default function App() {
  const allLen = [...P1_SPECTRA, ...P2_SPECTRA, ...P3_SPECTRA].map((s) => s.length);
  const bad = allLen.some((l) => l !== VELOCITY.length);
  return (
    <div style={{ position: 'absolute', left: 0, top: 0, width: 853, height: 397, background: '#fff', overflow: 'hidden' }}>
      <style>{'.recharts-surface{overflow:visible}'}</style>
      {PANELS.map((p, i) => <Panel key={i} cfg={p} />)}
      <svg width={853} height={397} style={{ position: 'absolute', left: 0, top: 0, pointerEvents: 'none' }}>
        {PANELS.map((p, i) => (
          <text key={i} x={(p.plotLeft + p.plotRight) / 2} y={393} textAnchor="middle" fontFamily={FONT}
            fontWeight="bold" fontSize={16} fill="#000">
            Velocity [km s<tspan fontSize={10} dy={-7}>-1</tspan><tspan dy={7}>]</tspan>
          </text>
        ))}
        <text x={18} y={174} transform="rotate(-90 18 174)" textAnchor="middle" fontFamily={FONT}
          fontWeight="bold" fontSize={16} fill="#000">
          T<tspan fontSize={9} dy={4}>MB</tspan><tspan dy={-4}> [K]</tspan>
        </text>
        {bad && <text x={300} y={200} fill="red" fontSize={12}>{allLen.join(',') + ' / ' + VELOCITY.length}</text>}
      </svg>
    </div>
  );
}
